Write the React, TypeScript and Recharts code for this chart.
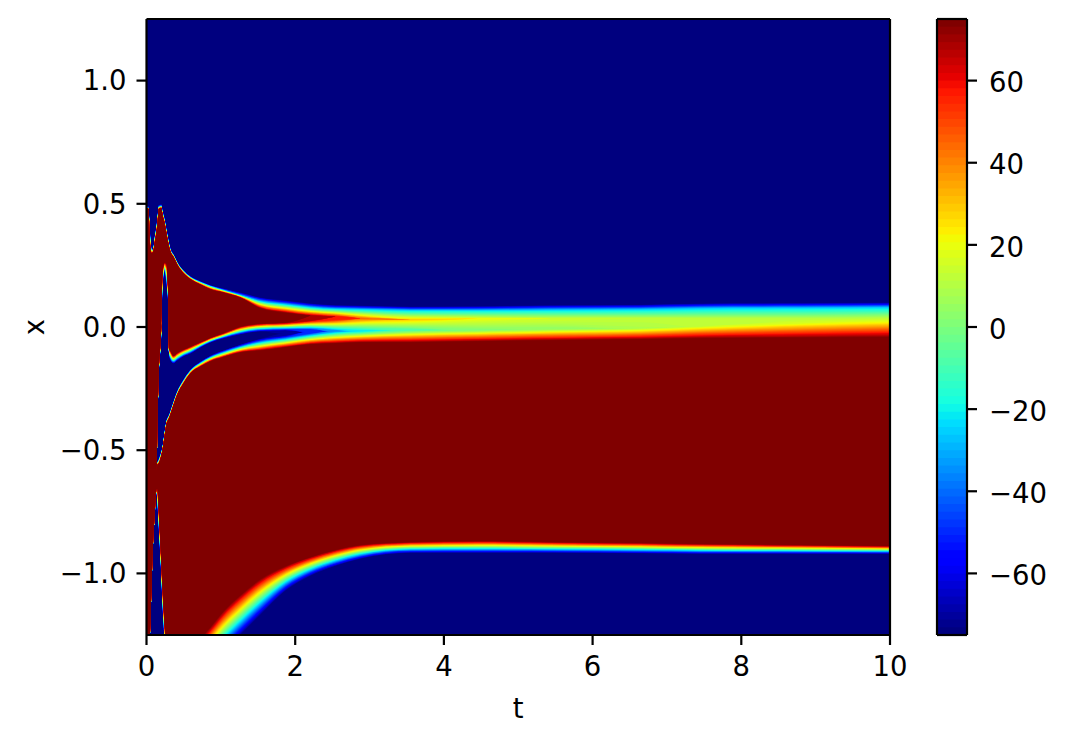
import React from "react";
import { ComposedChart, Area, XAxis, YAxis } from "recharts";

const FONT = "DejaVu Sans";
const timeSamples = [0, .027, .047, .067, .09, .108, .135, .148, .166, .198, .215, .242, .269, .289, .303, .323, .363, .417, .498, .592, .727, .861, 1.023, 1.265, 1.534, 1.871, 2.207, 2.544, 2.88, 3.553, 4.455, 5.437, 6.648, 7.456, 8.802, 10];
// Read-off field contours: x position of each front edge at every time sample
const upperNavyEdge = [.49, .49, .384, .323, .315, .36, .413, .445, .495, .498, .474, .441, .396, .364, .343, .319, .295, .262, .23, .205, .185, .169, .157, .14, .12, .108, .096, .089, .087, .083, .085, .089, .091, .096, .098, .1];
const upperShoulder = [.484, .482, .368, .315, .311, .352, .404, .437, .486, .49, .465, .433, .388, .356, .335, .311, .291, .258, .226, .201, .181, .165, .15, .128, .104, .091, .079, .073, .071, .067, .067, .069, .071, .075, .077, .079];
const humpStart = [.482, .478, .335, .299, .303, .335, .384, .417, .478, .482, .453, .421, .376, .343, .323, .303, .283, .25, .217, .193, .171, .152, .14, .118, .075, .057, .047, .043, .035, .03, .035, .035, .035, .035, .035, .039];
const humpEnd = [-.579, -.579, -.579, -.579, -.579, -.579, -.579, -.368, -.177, .006, .222, .262, .258, .169, -.087, -.096, -.116, -.104, -.091, -.079, -.061, -.043, -.026, .002, .014, .018, .026, .03, .035, .03, .03, .026, .035, .035, .035, .039];
const dipStart = [-.579, -.579, -.579, -.579, -.579, -.579, -.579, -.38, -.197, -.035, .148, .222, .169, .108, -.108, -.136, -.148, -.136, -.12, -.108, -.083, -.063, -.047, -.03, -.018, -.014, -.01, -.014, -.014, -.01, -.01, -.002, -.002, .002, .014, .018];
const dipEnd = [-.579, -.579, -.579, -.579, -.579, -.579, -.579, -.551, -.535, -.506, -.486, -.429, -.38, -.364, -.356, -.339, -.303, -.258, -.213, -.173, -.14, -.116, -.096, -.071, -.047, -.035, -.026, -.018, -.018, -.014, -.014, -.01, -.006, .002, .014, .018];
const redStart = [-.579, -.579, -.579, -.579, -.579, -.579, -.579, -.559, -.555, -.526, -.502, -.449, -.396, -.38, -.372, -.356, -.319, -.274, -.23, -.189, -.161, -.14, -.124, -.104, -.096, -.083, -.071, -.067, -.063, -.063, -.059, -.055, -.051, -.047, -.045, -.043];
const redEnd = [-1.518, -1.356, -1.242, -1.055, -.86, -.77, -.657, -.657, -.746, -.941, -1.051, -1.193, -1.315, -1.437, -1.478, -1.518, -1.518, -1.478, -1.396, -1.335, -1.266, -1.217, -1.157, -1.087, -1.022, -.97, -.933, -.904, -.884, -.872, -.868, -.872, -.876, -.88, -.884, -.888];
const lowerNavyEdge = [-1.526, -1.364, -1.25, -1.063, -.868, -.778, -.673, -.726, -.827, -1.01, -1.132, -1.274, -1.437, -1.6, -1.64, -1.681, -1.681, -1.64, -1.579, -1.498, -1.417, -1.376, -1.323, -1.25, -1.169, -1.071, -1.01, -.97, -.941, -.917, -.917, -.917, -.919, -.921, -.921, -.921];
// Field value on the hump crest and in the dip
const crestValue = [75, 75, 75, 75, 75, 75, 75, 75, 75, 75, 75, 75, 75, 75, 75, 75, 75, 75, 75, 75, 75, 75, 75, 75, 75, 75, 68, 58, 46, 30, 19, 14, 13, 12, 11, 10];
const dipValue = [-75, -75, -75, -75, -75, -75, -75, -75, -75, -75, -75, -75, -75, -75, -75, -75, -75, -75, -75, -75, -75, -75, -75, -75, -75, -70, -50, -35, -22, -8, 1, 5, 9, 13, 17, 22];

const xTicks = [0, 2, 4, 6, 8, 10];
const yTicks = [-1, -0.5, 0, 0.5, 1];
const barTicks = [-60, -40, -20, 0, 20, 40, 60];
const VMIN = -75;
const VMAX = 75;
const SHOULDER = -25;
const LEVELS = 80;

const ramp = (t: number, pts: number[][]) => {
  for (let i = 1; i < pts.length; i++) {
    if (t <= pts[i][0]) {
      const [a, va] = pts[i - 1];
      const [b, vb] = pts[i];
      return va + ((vb - va) * (t - a)) / (b - a);
    }
  }
  return pts[pts.length - 1][1];
};
const jet = (t: number) => {
  const r = ramp(t, [[0, 0], [.35, 0], [.66, 1], [.89, 1], [1, .5]]);
  const g = ramp(t, [[0, 0], [.125, 0], [.375, 1], [.64, 1], [.91, 0], [1, 0]]);
  const b = ramp(t, [[0, .5], [.11, 1], [.34, 1], [.65, 0], [1, 0]]);
  return `rgb(${Math.round(r * 255)},${Math.round(g * 255)},${Math.round(b * 255)})`;
};

const levelIdx = Array.from({ length: LEVELS }, (_, i) => i);
const levelValue = (i: number) => VMIN + ((VMAX - VMIN) * i) / LEVELS;
const levelColor = (i: number) => jet(i / (LEVELS - 1));

// interval of a profile lying above level L
const interval = (xs: number[], vs: number[], L: number): [number, number] => {
  let top: number | null = null;
  let bot: number | null = null;
  for (let j = 0; j < xs.length; j++) {
    if (vs[j] > L) {
      top = j === 0 ? xs[0] : xs[j - 1] + ((xs[j] - xs[j - 1]) * (L - vs[j - 1])) / (vs[j] - vs[j - 1]);
      break;
    }
  }
  for (let j = xs.length - 1; j >= 0; j--) {
    if (vs[j] > L) {
      bot = j === xs.length - 1 ? xs[j] : xs[j + 1] + ((xs[j] - xs[j + 1]) * (L - vs[j + 1])) / (vs[j] - vs[j + 1]);
      break;
    }
  }
  if (top === null || bot === null) {
    let m = 0;
    vs.forEach((v, j) => { if (v > vs[m]) m = j; });
    return [xs[m], xs[m]];
  }
  return [bot, top];
};

const SEAM = 0.004;
const fieldRows = timeSamples.map((t, n) => {
  const row: Record<string, any> = { t };
  const split = (dipStart[n] + dipEnd[n]) / 2;
  const cr = crestValue[n];
  const dp = dipValue[n];
  const upX = [upperNavyEdge[n], upperShoulder[n], humpStart[n], humpEnd[n], dipStart[n], split];
  const upV = [VMIN, SHOULDER, cr, cr, dp, dp];
  const loX = [split, dipEnd[n], redStart[n], redEnd[n], lowerNavyEdge[n]];
  const loV = [dp, dp, VMAX, VMAX, VMIN];
  levelIdx.forEach((i) => {
    const L = levelValue(i);
    const u = interval(upX, upV, L);
    // where the dip stays above this level the two parts overlap, so no seam shows
    row[`u${i}`] = L < dp ? [u[0] - SEAM, u[1]] : u;
    row[`l${i}`] = interval(loX, loV, L);
  });
  return row;
});
// a level that has no extent at a sample and its neighbours draws nothing there
const isEmpty = (r: any, k: string) => !r || !r[k] || r[k][0] === r[k][1];
levelIdx.forEach((i) => {
  ["u", "l"].forEach((p) => {
    const k = `${p}${i}`;
    const empty = fieldRows.map((r) => isEmpty(r, k));
    fieldRows.forEach((r, n) => {
      const prev = n === 0 ? true : empty[n - 1];
      const next = n === fieldRows.length - 1 ? true : empty[n + 1];
      if (empty[n] && prev && next) r[k] = null;
    });
  });
});

const barRows = [0, 1].map((x) => {
  const row: Record<string, any> = { x };
  levelIdx.forEach((i) => { row[`c${i}`] = [levelValue(i), VMAX]; });
  return row;
});

const tickStyle = { fill: "#000", fontFamily: FONT, fontSize: 27.5 };
const tickLine = { stroke: "#000", strokeWidth: 2.2 };
const frame = { stroke: "#000", strokeWidth: 2.2 };
const minus = (s: string) => s.replace("-", "\u2212");
const layer = { position: "absolute", left: 0, top: 0 } as const;
const mainMargin = { top: 19, right: 175, bottom: 0, left: 46.5 };
const barMargin = { top: 19, right: 0, bottom: 0, left: 937 };

export default function App() {
  return (
    <div style={{ position: "absolute", left: 0, top: 0, width: 1065, height: 742, background: "#fff" }}>
      <div style={layer}>
        <ComposedChart width={1065} height={742} data={fieldRows} margin={mainMargin}>
          <XAxis dataKey="t" type="number" domain={[0, 10]} ticks={xTicks} allowDataOverflow height={107}
            tick={{ ...tickStyle, dy: 3 }} tickLine={tickLine} axisLine={false} tickSize={10} tickMargin={8}
            label={{ value: "t", position: "insideBottom", offset: 24, style: { ...tickStyle } }} />
          <YAxis type="number" domain={[-1.25, 1.25]} ticks={yTicks} allowDataOverflow width={100}
            tick={tickStyle} tickLine={tickLine} axisLine={false} tickSize={10} tickMargin={10}
            tickFormatter={(v: number) => minus(v.toFixed(1))}
            label={{ value: "x", angle: -90, position: "insideLeft", offset: -12, textAnchor: "middle", style: { ...tickStyle } }} />
          <Area dataKey={() => [-1.25, 1.25]} type="linear" stroke="none" fill="#00007f" fillOpacity={1} isAnimationActive={false} dot={false} activeDot={false} />
          {levelIdx.flatMap((i) => [
            <Area key={`u${i}`} dataKey={`u${i}`} type="monotone" stroke="none" fill={levelColor(i)} fillOpacity={1} isAnimationActive={false} dot={false} activeDot={false} />,
            <Area key={`l${i}`} dataKey={`l${i}`} type="monotone" stroke="none" fill={levelColor(i)} fillOpacity={1} isAnimationActive={false} dot={false} activeDot={false} />,
          ])}
        </ComposedChart>
      </div>
      <div style={layer}>
        <ComposedChart width={1065} height={742} data={barRows} margin={barMargin}>
          <XAxis dataKey="x" type="number" domain={[0, 1]} ticks={[]} height={107} tick={false} tickLine={false} axisLine={false} />
          <YAxis orientation="right" type="number" domain={[VMIN, VMAX]} ticks={barTicks} width={98}
            tick={{ ...tickStyle, textAnchor: "start", dy: 2 }} tickLine={tickLine} axisLine={false} tickSize={10} tickMargin={12}
            tickFormatter={(v: number) => minus(String(v))} />
          {levelIdx.map((i) => (
            <Area key={`c${i}`} dataKey={`c${i}`} type="linear" stroke="none" fill={levelColor(i)} fillOpacity={1} isAnimationActive={false} dot={false} activeDot={false} />
          ))}
        </ComposedChart>
      </div>
      {/* frames drawn above the field and the colour bar */}
      <div style={layer}>
        <ComposedChart width={1065} height={742} data={fieldRows} margin={{ top: 18, right: 174, bottom: 0, left: 46.5 }}>
          <XAxis dataKey="t" type="number" domain={[0, 10]} ticks={[]} height={107} tick={false} tickLine={false} axisLine={frame} />
          <XAxis xAxisId="top" orientation="top" dataKey="t" type="number" domain={[0, 10]} ticks={[]} height={1} tick={false} tickLine={false} axisLine={frame} />
          <YAxis type="number" domain={[-1.25, 1.25]} ticks={[]} width={100} tick={false} tickLine={false} axisLine={frame} />
          <YAxis yAxisId="right" orientation="right" type="number" domain={[-1.25, 1.25]} ticks={[]} width={1} tick={false} tickLine={false} axisLine={frame} />
        </ComposedChart>
      </div>
      <div style={layer}>
        <ComposedChart width={1065} height={742} data={barRows} margin={{ top: 18, right: 0, bottom: 0, left: 936 }}>
          <XAxis dataKey="x" type="number" domain={[0, 1]} ticks={[]} height={107} tick={false} tickLine={false} axisLine={frame} />
          <XAxis xAxisId="top" orientation="top" dataKey="x" type="number" domain={[0, 1]} ticks={[]} height={1} tick={false} tickLine={false} axisLine={frame} />
          <YAxis yAxisId="left" orientation="left" type="number" domain={[VMIN, VMAX]} ticks={[]} width={1} tick={false} tickLine={false} axisLine={frame} />
          <YAxis orientation="right" type="number" domain={[VMIN, VMAX]} ticks={[]} width={98} tick={false} tickLine={false} axisLine={frame} />
        </ComposedChart>
      </div>
    </div>
  );
}
